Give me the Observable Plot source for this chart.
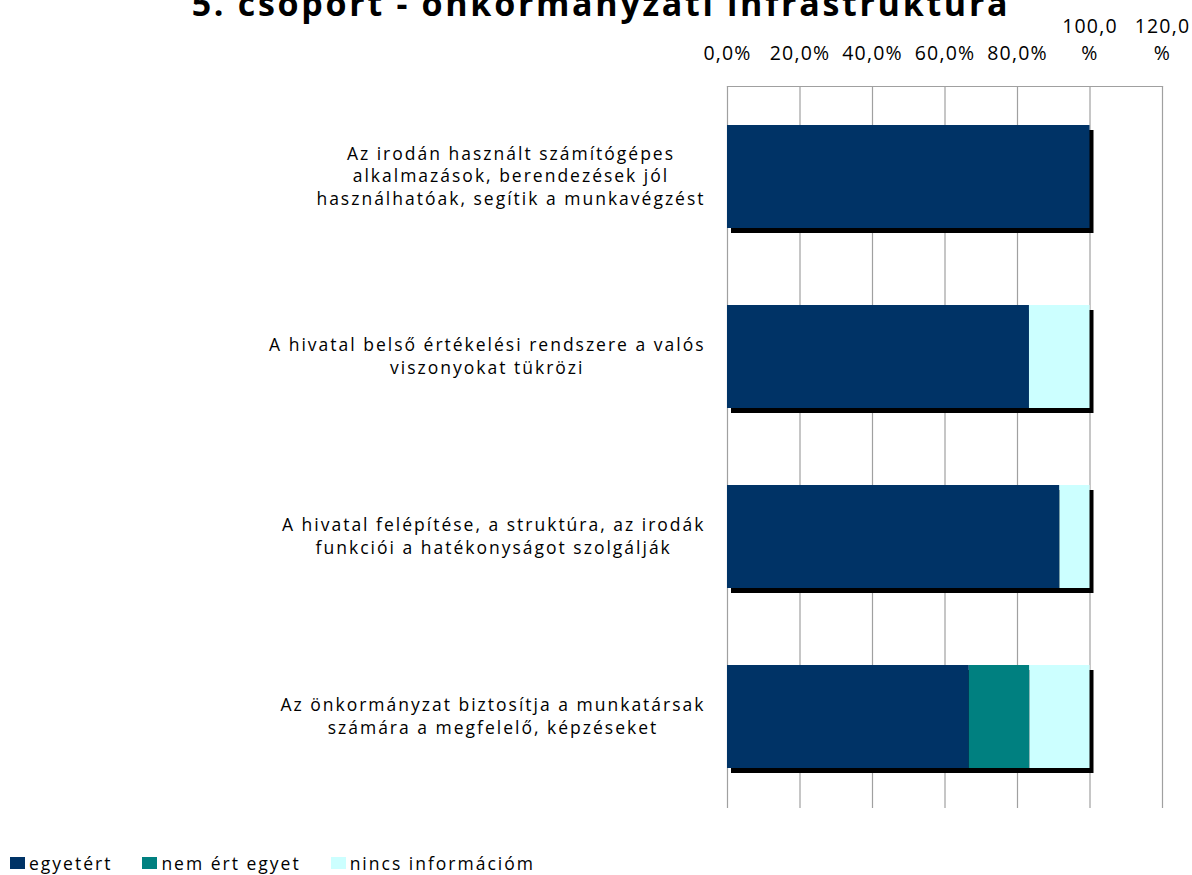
<!DOCTYPE html>
<html><head><meta charset="utf-8">
<script src="https://cdn.jsdelivr.net/npm/d3@7"></script>
<script src="https://cdn.jsdelivr.net/npm/@observablehq/plot@0.6"></script>
<style>
body{margin:0;background:#fff;font-family:'Open Sans',sans-serif;}
#wrap{position:relative;width:1192px;height:875px;overflow:hidden;background:#fff;}
#title{position:absolute;left:5px;width:1192px;top:-14px;text-align:center;font-size:34px;font-weight:700;letter-spacing:2.7px;line-height:34px;color:#000;white-space:nowrap;z-index:2;}
#chart{position:absolute;left:0;top:0;z-index:1;}
#legend{position:absolute;left:10px;top:851px;display:flex;align-items:center;font-size:17.5px;letter-spacing:2px;color:#000;z-index:2;}
#legend .item{display:flex;align-items:center;margin-right:30px;}
#legend .sw{width:15px;height:12px;margin-right:4px;}
#chart svg g[aria-label="text"] text{letter-spacing:2px;}
#chart svg g[aria-label="x-axis tick label"] text{letter-spacing:1.2px;}
</style></head>
<body>
<div id="wrap">
  <div id="chart"></div>
  <div id="title"></div>
  <div id="legend"></div>
</div>
<script>
const titleText = "5. csoport - önkormányzati infrastruktúra";
const categories = [
  "Az irodán használt számítógépes\nalkalmazások, berendezések jól\nhasználhatóak, segítik a munkavégzést",
  "A hivatal belső értékelési rendszere a valós\nviszonyokat tükrözi",
  "A hivatal felépítése, a struktúra, az irodák\nfunkciói a hatékonyságot szolgálják",
  "Az önkormányzat biztosítja a munkatársak\nszámára a megfelelő, képzéseket"
];
const series = ["egyetért", "nem ért egyet", "nincs információm"];
const colors = ["#003366", "#008080", "#CCFFFF"];
const egyetert = [1.000, 0.833, 0.917, 0.667];
const nemErtEgyet = [0.000, 0.000, 0.000, 0.167];
const nincsInformaciom = [0.000, 0.167, 0.083, 0.166];
const xTicks = [0, 0.2, 0.4, 0.6, 0.8, 1.0, 1.2];
const xTickLabels = ["0,0%", "20,0%", "40,0%", "60,0%", "80,0%", "100,0\n%", "120,0\n%"];

const seriesValues = [egyetert, nemErtEgyet, nincsInformaciom];
const rows = [];
categories.forEach((c, i) => series.forEach((s, j) => rows.push({cat: c, series: s, value: seriesValues[j][i]})));
const totals = categories.map((c, i) => ({cat: c, total: seriesValues.reduce((a, v) => a + v[i], 0)}));

document.getElementById("title").textContent = titleText;

const labelFont = 17.5, labelSpacing = 2, labelGap = 22;
const ctx = document.createElement("canvas").getContext("2d");
ctx.font = `${labelFont}px 'Open Sans'`;
function blockWidth(t) {
  return Math.max(...t.split("\n").map(l => ctx.measureText(l).width + labelSpacing * l.length));
}

const labelMarks = categories.map(c => Plot.text([c], {
  y: d => d, text: d => d, frameAnchor: "left", textAnchor: "middle",
  dx: -(labelGap + blockWidth(c) / 2), dy: -2, fontSize: labelFont, lineHeight: 1.3, fill: "#000"
}));

const plot = Plot.plot({
  width: 1192, height: 820,
  marginLeft: 727, marginRight: 30, marginTop: 86, marginBottom: 12,
  style: {fontFamily: "'Open Sans', sans-serif", fontSize: "19.5px", color: "#000", background: "transparent"},
  x: {domain: [0, 1.2], axis: null},
  y: {domain: categories, paddingInner: 0.4275, paddingOuter: 0.214, axis: null},
  color: {domain: series, range: colors},
  marks: [
    Plot.gridX(xTicks, {stroke: "#a0a0a0", strokeOpacity: 1, strokeWidth: 1.2}),
    Plot.frame({anchor: "top", stroke: "#a0a0a0", strokeWidth: 1.2}),
    Plot.axisX(xTicks, {anchor: "top", tickSize: 0, tickPadding: 27, lineHeight: 1.35,
      tickFormat: d => xTickLabels[xTicks.indexOf(d)], fill: "#000"}),
    Plot.barX(totals, {x: "total", y: "cat", fill: "#000", dx: 4, dy: 5}),
    Plot.barX(rows, {x: "value", y: "cat", fill: "series"}),
    ...labelMarks
  ]
});
document.getElementById("chart").appendChild(plot);

const legend = document.getElementById("legend");
series.forEach((s, j) => {
  const it = document.createElement("div"); it.className = "item";
  const sw = document.createElement("div"); sw.className = "sw"; sw.style.background = colors[j];
  const tx = document.createElement("span"); tx.textContent = s;
  it.appendChild(sw); it.appendChild(tx); legend.appendChild(it);
});
</script>
</body></html>
